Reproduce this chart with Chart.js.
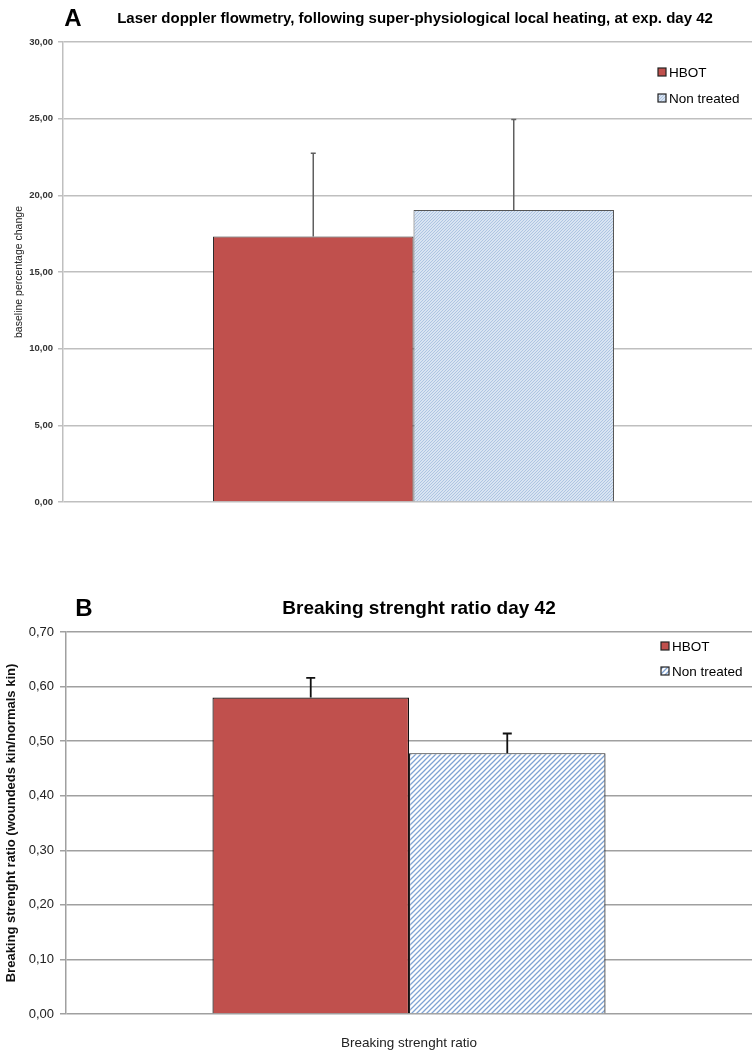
<!DOCTYPE html>
<html>
<head>
<meta charset="utf-8">
<script src="https://cdn.jsdelivr.net/npm/chart.js@4/dist/chart.umd.min.js"></script>
<style>
  html, body { margin: 0; background: #fff; overflow: hidden; }
  canvas { display: block; }
</style>
</head>
<body>
<!-- panel A's plot runs a little past the right edge of the picture -->
<canvas id="chartA" width="764" height="540"></canvas>
<canvas id="chartB" width="752" height="511"></canvas>
<script>
// series names
const groups = ['HBOT', 'Non treated'];

// panel A: laser doppler, % change from baseline
const laserCategory = [''];
const laserMeans = [17.31, 19.05];
const laserErrors = [5.44, 5.90];

// panel B: breaking strength ratio
const strengthCategory = ['Breaking strenght ratio'];
const strengthMeans = [0.580, 0.478];
const strengthErrors = [0.036, 0.036];

const FONT = "'Liberation Sans', Arial, sans-serif";

function hatch(bg, line, size, width) {
    const c = document.createElement('canvas');
    c.width = size; c.height = size;
    const g = c.getContext('2d');
    g.fillStyle = bg;
    g.fillRect(0, 0, size, size);
    g.strokeStyle = line;
    g.lineWidth = width;
    g.beginPath();
    g.moveTo(0, size); g.lineTo(size, 0);
    g.moveTo(-1, 1); g.lineTo(1, -1);
    g.moveTo(size - 1, size + 1); g.lineTo(size + 1, size - 1);
    g.stroke();
    return g.createPattern(c, 'repeat');
}

const commaFmt = v => v.toFixed(2).replace('.', ',');

// error bars drawn from each bar top using the chart's own y scale
const errorBars = {
    id: 'errorBars',
    afterDatasetsDraw(chart, args, opts) {
        const ctx = chart.ctx;
        const y = chart.scales.y;
        ctx.save();
        ctx.strokeStyle = opts.color;
        ctx.lineWidth = opts.width;
        chart.data.datasets.forEach((ds, i) => {
            chart.getDatasetMeta(i).data.forEach((bar, j) => {
                const top = y.getPixelForValue(ds.data[j] + ds.errors[j]);
                ctx.beginPath();
                ctx.moveTo(bar.x, bar.y);
                ctx.lineTo(bar.x, top);
                ctx.moveTo(bar.x - opts.cap, top);
                ctx.lineTo(bar.x + opts.cap, top);
                ctx.stroke();
            });
        });
        ctx.restore();
    }
};

// panel letter, title and the small legend inside the plot
const decorations = {
    id: 'decorations',
    afterDraw(chart, args, o) {
        const ctx = chart.ctx;
        ctx.save();
        ctx.fillStyle = '#000';
        ctx.textBaseline = 'middle';
        ctx.textAlign = 'center';
        ctx.font = 'bold 24px ' + FONT;
        ctx.fillText(o.letter, o.letterX, o.titleY);
        ctx.font = o.titleFont;
        ctx.fillText(o.title, o.titleX, o.titleY);

        ctx.textAlign = 'left';
        ctx.font = '13.5px ' + FONT;
        chart.data.datasets.forEach((ds, i) => {
            const ly = o.legendY + i * o.legendGap;
            ctx.fillStyle = ds.backgroundColor;
            ctx.fillRect(o.legendX - 4, ly - 4, 8, 8);
            ctx.strokeStyle = '#222';
            ctx.lineWidth = 1.2;
            ctx.strokeRect(o.legendX - 4, ly - 4, 8, 8);
            ctx.fillStyle = '#000';
            ctx.fillText(ds.label, o.legendX + 7, ly + 1);
        });
        ctx.restore();
    }
};

const ctxA = document.getElementById('chartA').getContext('2d');
new Chart(ctxA, {
    type: 'bar',
    data: {
        labels: laserCategory,
        datasets: [
            { label: groups[0], data: [laserMeans[0]], errors: [laserErrors[0]],
              backgroundColor: '#C0504D', borderColor: '#2a2a2a', borderWidth: 1 },
            { label: groups[1], data: [laserMeans[1]], errors: [laserErrors[1]],
              backgroundColor: hatch('#D9E4F2', '#AEC5E2', 3, 1), borderColor: '#555', borderWidth: 1 },
        ],
    },
    plugins: [errorBars, decorations],
    options: {
        responsive: false, animation: false,
        layout: { padding: { top: 42, bottom: 38, left: 0, right: 0 } },
        datasets: { bar: { categoryPercentage: 0.572, barPercentage: 1 } },
        plugins: {
            legend: { display: false },
            tooltip: { enabled: false },
            errorBars: { color: '#5f5f5f', width: 1.5, cap: 2.5 },
            decorations: {
                letter: 'A', letterX: 73, titleY: 19,
                title: 'Laser doppler flowmetry, following super-physiological local heating, at exp. day 42',
                titleX: 415, titleFont: 'bold 15px ' + FONT,
                legendX: 662, legendY: 72, legendGap: 26,
            },
        },
        scales: {
            x: { display: false },
            y: {
                min: 0, max: 30,
                afterFit: s => { s.width = 63; },
                ticks: { stepSize: 5, callback: commaFmt, color: '#333', padding: 5,
                         font: { family: FONT, size: 9.5, weight: 'bold' } },
                grid: { color: '#BFBFBF', lineWidth: 1.5, tickLength: 5 },
                border: { color: '#BFBFBF', width: 1.5 },
                title: { display: true, text: 'baseline percentage change', color: '#222',
                         font: { family: FONT, size: 10.5 }, padding: { top: 13, bottom: 0 } },
            },
        },
    },
});

const ctxB = document.getElementById('chartB').getContext('2d');
new Chart(ctxB, {
    type: 'bar',
    data: {
        labels: strengthCategory,
        datasets: [
            { label: groups[0], data: [strengthMeans[0]], errors: [strengthErrors[0]],
              backgroundColor: '#C0504D', borderColor: '#111', borderWidth: 1.2 },
            { label: groups[1], data: [strengthMeans[1]], errors: [strengthErrors[1]],
              backgroundColor: hatch('#FFFFFF', '#7FA3D3', 5, 1.3), borderColor: '#222', borderWidth: 1.2 },
        ],
    },
    plugins: [errorBars, decorations],
    options: {
        responsive: false, animation: false,
        layout: { padding: { top: 92, bottom: 0, left: 0, right: 0 } },
        datasets: { bar: { categoryPercentage: 0.573, barPercentage: 1 } },
        plugins: {
            legend: { display: false },
            tooltip: { enabled: false },
            errorBars: { color: '#111', width: 1.8, cap: 4.5 },
            decorations: {
                letter: 'B', letterX: 84, titleY: 69,
                title: 'Breaking strenght ratio day 42',
                titleX: 419, titleFont: 'bold 19px ' + FONT,
                legendX: 665, legendY: 106, legendGap: 25,
            },
        },
        scales: {
            x: {
                afterFit: s => { s.height = 37; },
                grid: { display: false, drawTicks: false },
                border: { display: false },
                ticks: { color: '#222', padding: 21, font: { family: FONT, size: 13.5 } },
            },
            y: {
                min: 0, max: 0.7,
                afterFit: s => { s.width = 66; },
                ticks: { stepSize: 0.1, callback: commaFmt, color: '#222', padding: 6,
                         font: { family: FONT, size: 13 } },
                grid: { color: '#A0A0A0', lineWidth: 1.5, tickLength: 6 },
                border: { color: '#A0A0A0', width: 1.5 },
                title: { display: true, text: 'Breaking strenght ratio (woundeds kin/normals kin)', color: '#111',
                         font: { family: FONT, size: 13, weight: 'bold' }, padding: { top: 4, bottom: 0 } },
            },
        },
    },
});
</script>
</body>
</html>
